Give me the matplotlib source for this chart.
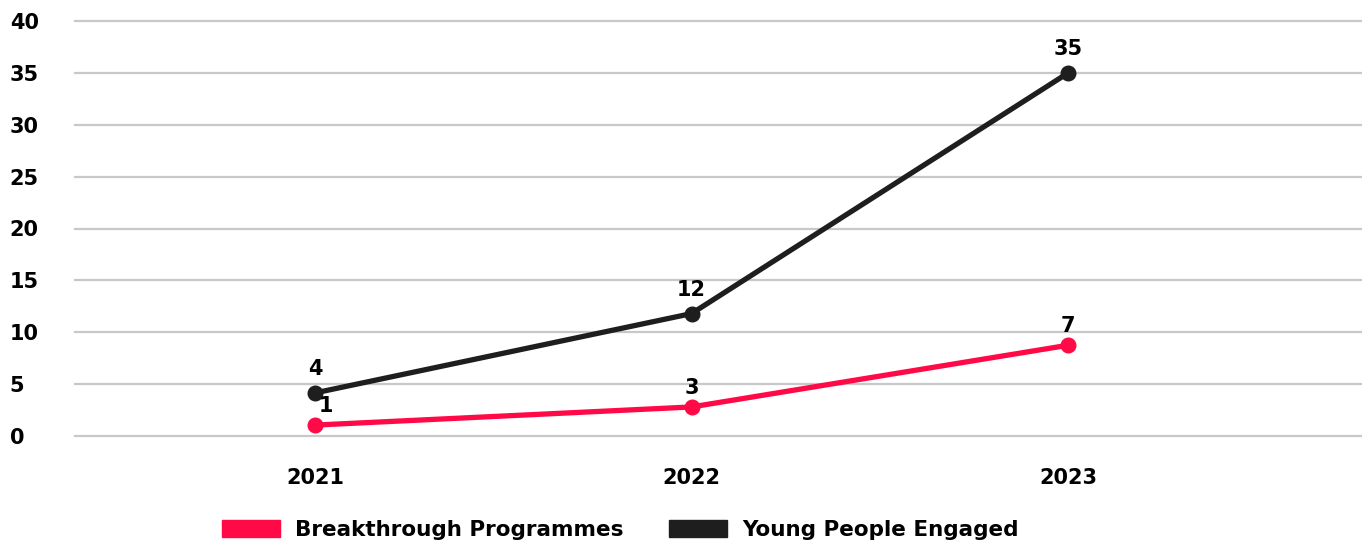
import matplotlib.pyplot as plt
from matplotlib.patches import Patch

plt.rcParams['font.family'] = ['DejaVu Sans']
plt.rcParams['font.weight'] = 'bold'

years = [2021, 2022, 2023]
programmes = [1.05, 2.8, 8.75]
programmes_labels = ["1", "3", "7"]
young_people = [4.15, 11.8, 35]
young_people_labels = ["4", "12", "35"]

red = "#ff0a47"
dark = "#1e1e1e"

fig = plt.figure(figsize=(13.62, 5.41), dpi=100)
ax = fig.add_axes([75 / 1362, 1 - 436 / 541, 1 - 75 / 1362, (436 - 21) / 541])

ax.plot(years, young_people, color=dark, lw=3.8, marker="o", ms=10.5, clip_on=False, zorder=3)
ax.plot(years, programmes, color=red, lw=3.8, marker="o", ms=10.5, clip_on=False, zorder=4)

for x, y, lab in zip(years, young_people, young_people_labels):
    ax.annotate(lab, (x, y), xytext=(0, 17), textcoords="offset points",
                ha="center", va="center", fontsize=15, fontweight="bold", color="black")
for i, (x, y, lab) in enumerate(zip(years, programmes, programmes_labels)):
    dx = 8 if i == 0 else 0
    ax.annotate(lab, (x, y), xytext=(dx, 14), textcoords="offset points",
                ha="center", va="center", fontsize=15, fontweight="bold", color="black")

ax.set_ylim(0, 40)
ax.set_xlim(2020.363, 2023.78)
ax.set_yticks(range(0, 41, 5))
ax.set_xticks(years)
ax.set_xticklabels([str(y) for y in years])
ax.grid(axis="y", color="#c8c8c8", lw=1.6)
for gl in ax.get_ygridlines():
    gl.set_clip_on(False)
ax.set_axisbelow(True)
for s in ax.spines.values():
    s.set_visible(False)
ax.tick_params(axis="both", length=0, labelsize=15)
ax.tick_params(axis="x", pad=23)
ax.tick_params(axis="y", pad=47)
for t in ax.get_yticklabels():
    t.set_horizontalalignment("left")
    t.set_fontweight("bold")
for t in ax.get_xticklabels():
    t.set_fontweight("bold")

handles = [Patch(color=red, label="Breakthrough Programmes"),
           Patch(color=dark, label="Young People Engaged")]
fig.legend(handles=handles, loc="center", bbox_to_anchor=(620 / 1362, 1 - 530 / 541),
           ncol=2, frameon=False, handlelength=2.7, handleheight=0.8,
           handletextpad=0.7, columnspacing=2.1, prop={"weight": "bold", "size": 15.5})

fig.savefig("out.png", dpi=100)
